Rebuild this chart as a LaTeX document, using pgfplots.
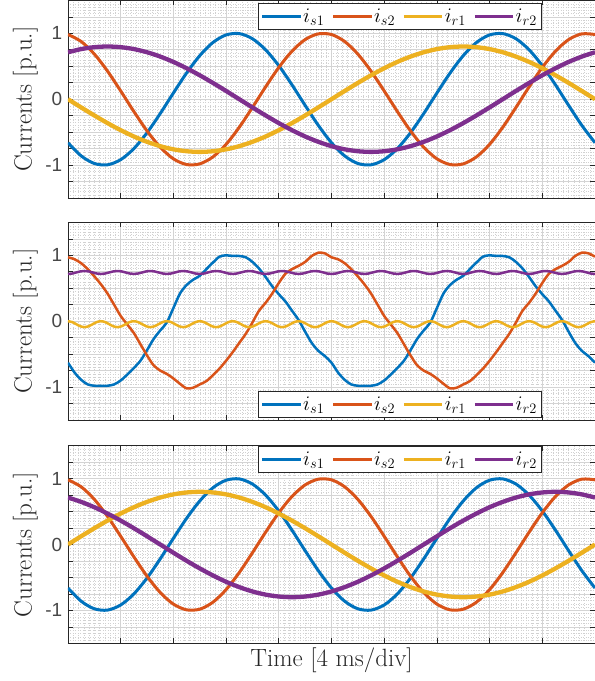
\documentclass[border=0pt]{standalone}
\usepackage{fontspec}
\usepackage{pgfplots}
\usepackage{pgfplotstable}
\pgfplotsset{compat=1.18}
\newfontfamily\tickfont{Liberation Sans}
\definecolor{mblue}{rgb}{0,0.447,0.741}
\definecolor{morange}{rgb}{0.85,0.325,0.098}
\definecolor{myellow}{rgb}{0.929,0.694,0.125}
\definecolor{mpurple}{rgb}{0.494,0.184,0.556}
\definecolor{axgray}{rgb}{0.15,0.15,0.15}

% Panel 1 (t in ms)
\pgfplotstableread{
t is1 is2 ir1 ir2
0 -0.661 0.982 0 0.713
1 -0.861 0.876 -0.125 0.761
2 -0.976 0.685 -0.247 0.790
3 -0.996 0.426 -0.363 0.800
4 -0.918 0.125 -0.470 0.790
5 -0.750 -0.187 -0.566 0.761
6 -0.509 -0.482 -0.647 0.713
7 -0.218 -0.729 -0.713 0.647
8 0.094 -0.905 -0.761 0.566
9 0.397 -0.992 -0.790 0.470
10 0.661 -0.982 -0.800 0.363
11 0.861 -0.876 -0.790 0.247
12 0.976 -0.685 -0.761 0.125
13 0.996 -0.426 -0.713 0
14 0.918 -0.125 -0.647 -0.125
15 0.750 0.187 -0.566 -0.247
16 0.509 0.482 -0.470 -0.363
17 0.218 0.729 -0.363 -0.470
18 -0.094 0.905 -0.247 -0.566
19 -0.397 0.992 -0.125 -0.647
20 -0.661 0.982 0 -0.713
21 -0.861 0.876 0.125 -0.761
22 -0.976 0.685 0.247 -0.790
23 -0.996 0.426 0.363 -0.800
24 -0.918 0.125 0.470 -0.790
25 -0.750 -0.187 0.566 -0.761
26 -0.509 -0.482 0.647 -0.713
27 -0.218 -0.729 0.713 -0.647
28 0.094 -0.905 0.761 -0.566
29 0.397 -0.992 0.790 -0.470
30 0.661 -0.982 0.800 -0.363
31 0.861 -0.876 0.790 -0.247
32 0.976 -0.685 0.761 -0.125
33 0.996 -0.426 0.713 0
34 0.918 -0.125 0.647 0.125
35 0.750 0.187 0.566 0.247
36 0.509 0.482 0.470 0.363
37 0.218 0.729 0.363 0.470
38 -0.094 0.905 0.247 0.566
39 -0.397 0.992 0.125 0.647
40 -0.661 0.982 0 0.713
}\tabA

% Panel 3
\pgfplotstableread{
t is1 is2 ir1 ir2
0 -0.661 0.982 0 0.713
1 -0.861 0.876 0.125 0.647
2 -0.976 0.685 0.247 0.566
3 -0.996 0.426 0.363 0.470
4 -0.918 0.125 0.470 0.363
5 -0.750 -0.187 0.566 0.247
6 -0.509 -0.482 0.647 0.125
7 -0.218 -0.729 0.713 0
8 0.094 -0.905 0.761 -0.125
9 0.397 -0.992 0.790 -0.247
10 0.661 -0.982 0.800 -0.363
11 0.861 -0.876 0.790 -0.470
12 0.976 -0.685 0.761 -0.566
13 0.996 -0.426 0.713 -0.647
14 0.918 -0.125 0.647 -0.713
15 0.750 0.187 0.566 -0.761
16 0.509 0.482 0.470 -0.790
17 0.218 0.729 0.363 -0.800
18 -0.094 0.905 0.247 -0.790
19 -0.397 0.992 0.125 -0.761
20 -0.661 0.982 0 -0.713
21 -0.861 0.876 -0.125 -0.647
22 -0.976 0.685 -0.247 -0.566
23 -0.996 0.426 -0.363 -0.470
24 -0.918 0.125 -0.470 -0.363
25 -0.750 -0.187 -0.566 -0.247
26 -0.509 -0.482 -0.647 -0.125
27 -0.218 -0.729 -0.713 0
28 0.094 -0.905 -0.761 0.125
29 0.397 -0.992 -0.790 0.247
30 0.661 -0.982 -0.800 0.363
31 0.861 -0.876 -0.790 0.470
32 0.976 -0.685 -0.761 0.566
33 0.996 -0.426 -0.713 0.647
34 0.918 -0.125 -0.647 0.713
35 0.750 0.187 -0.566 0.761
36 0.509 0.482 -0.470 0.790
37 0.218 0.729 -0.363 0.800
38 -0.094 0.905 -0.247 0.790
39 -0.397 0.992 -0.125 0.761
40 -0.661 0.982 0 0.713
}\tabC

% Panel 2, stator currents
\pgfplotstableread{
t is1 is2
0 -0.63 0.97
0.5 -0.78 0.94
1 -0.89 0.88
1.5 -0.96 0.79
2 -0.98 0.68
2.5 -0.98 0.56
3 -0.98 0.42
3.5 -0.96 0.25
4 -0.90 0.08
4.5 -0.81 -0.05
5 -0.71 -0.18
5.5 -0.60 -0.35
6 -0.44 -0.52
6.5 -0.27 -0.67
7 -0.14 -0.75
7.5 -0.02 -0.80
8 0.20 -0.87
8.5 0.42 -0.95
9 0.55 -1.02
9.5 0.63 -1.01
10 0.69 -0.96
10.5 0.79 -0.91
11 0.89 -0.82
11.5 0.98 -0.72
12 1.00 -0.60
12.5 0.99 -0.47
13 0.99 -0.33
13.5 0.97 -0.19
14 0.90 -0.02
14.5 0.80 0.16
15 0.67 0.28
15.5 0.53 0.42
16 0.41 0.58
16.5 0.30 0.72
17 0.16 0.79
17.5 0.02 0.84
18 -0.16 0.90
18.5 -0.33 0.99
19 -0.45 1.04
19.5 -0.53 1.03
20 -0.63 0.97
20.5 -0.78 0.94
21 -0.89 0.88
21.5 -0.96 0.79
22 -0.98 0.68
22.5 -0.98 0.56
23 -0.98 0.42
23.5 -0.96 0.25
24 -0.90 0.08
24.5 -0.81 -0.05
25 -0.71 -0.18
25.5 -0.60 -0.35
26 -0.44 -0.52
26.5 -0.27 -0.67
27 -0.14 -0.75
27.5 -0.02 -0.80
28 0.20 -0.87
28.5 0.42 -0.95
29 0.55 -1.02
29.5 0.63 -1.01
30 0.69 -0.96
30.5 0.79 -0.91
31 0.89 -0.82
31.5 0.98 -0.72
32 1.00 -0.60
32.5 0.99 -0.47
33 0.99 -0.33
33.5 0.97 -0.19
34 0.90 -0.02
34.5 0.80 0.16
35 0.67 0.28
35.5 0.53 0.42
36 0.41 0.58
36.5 0.30 0.72
37 0.16 0.79
37.5 0.02 0.84
38 -0.16 0.90
38.5 -0.33 0.99
39 -0.45 1.04
39.5 -0.53 1.03
40 -0.63 0.98
}\tabBs

% Panel 2, rotor currents
\pgfplotstableread[row sep=\\]{
t ir1 ir2\\
0 0 0.718\\ 0.3125 -0.013 0.724\\ 0.625 -0.045 0.740\\ 0.9375 -0.077 0.756\\ 1.25 -0.090 0.762\\ 1.5625 -0.077 0.756\\ 1.875 -0.045 0.740\\ 2.1875 -0.013 0.724\\
2.5 0 0.718\\ 2.8125 -0.013 0.724\\ 3.125 -0.045 0.740\\ 3.4375 -0.077 0.756\\ 3.75 -0.090 0.762\\ 4.0625 -0.077 0.756\\ 4.375 -0.045 0.740\\ 4.6875 -0.013 0.724\\
5 0 0.718\\ 5.3125 -0.013 0.724\\ 5.625 -0.045 0.740\\ 5.9375 -0.077 0.756\\ 6.25 -0.090 0.762\\ 6.5625 -0.077 0.756\\ 6.875 -0.045 0.740\\ 7.1875 -0.013 0.724\\
7.5 0 0.718\\ 7.8125 -0.013 0.724\\ 8.125 -0.045 0.740\\ 8.4375 -0.077 0.756\\ 8.75 -0.090 0.762\\ 9.0625 -0.077 0.756\\ 9.375 -0.045 0.740\\ 9.6875 -0.013 0.724\\
10 0 0.718\\ 10.3125 -0.013 0.724\\ 10.625 -0.045 0.740\\ 10.9375 -0.077 0.756\\ 11.25 -0.090 0.762\\ 11.5625 -0.077 0.756\\ 11.875 -0.045 0.740\\ 12.1875 -0.013 0.724\\
12.5 0 0.718\\ 12.8125 -0.013 0.724\\ 13.125 -0.045 0.740\\ 13.4375 -0.077 0.756\\ 13.75 -0.090 0.762\\ 14.0625 -0.077 0.756\\ 14.375 -0.045 0.740\\ 14.6875 -0.013 0.724\\
15 0 0.718\\ 15.3125 -0.013 0.724\\ 15.625 -0.045 0.740\\ 15.9375 -0.077 0.756\\ 16.25 -0.090 0.762\\ 16.5625 -0.077 0.756\\ 16.875 -0.045 0.740\\ 17.1875 -0.013 0.724\\
17.5 0 0.718\\ 17.8125 -0.013 0.724\\ 18.125 -0.045 0.740\\ 18.4375 -0.077 0.756\\ 18.75 -0.090 0.762\\ 19.0625 -0.077 0.756\\ 19.375 -0.045 0.740\\ 19.6875 -0.013 0.724\\
20 0 0.718\\ 20.3125 -0.013 0.724\\ 20.625 -0.045 0.740\\ 20.9375 -0.077 0.756\\ 21.25 -0.090 0.762\\ 21.5625 -0.077 0.756\\ 21.875 -0.045 0.740\\ 22.1875 -0.013 0.724\\
22.5 0 0.718\\ 22.8125 -0.013 0.724\\ 23.125 -0.045 0.740\\ 23.4375 -0.077 0.756\\ 23.75 -0.090 0.762\\ 24.0625 -0.077 0.756\\ 24.375 -0.045 0.740\\ 24.6875 -0.013 0.724\\
25 0 0.718\\ 25.3125 -0.013 0.724\\ 25.625 -0.045 0.740\\ 25.9375 -0.077 0.756\\ 26.25 -0.090 0.762\\ 26.5625 -0.077 0.756\\ 26.875 -0.045 0.740\\ 27.1875 -0.013 0.724\\
27.5 0 0.718\\ 27.8125 -0.013 0.724\\ 28.125 -0.045 0.740\\ 28.4375 -0.077 0.756\\ 28.75 -0.090 0.762\\ 29.0625 -0.077 0.756\\ 29.375 -0.045 0.740\\ 29.6875 -0.013 0.724\\
30 0 0.718\\ 30.3125 -0.013 0.724\\ 30.625 -0.045 0.740\\ 30.9375 -0.077 0.756\\ 31.25 -0.090 0.762\\ 31.5625 -0.077 0.756\\ 31.875 -0.045 0.740\\ 32.1875 -0.013 0.724\\
32.5 0 0.718\\ 32.8125 -0.013 0.724\\ 33.125 -0.045 0.740\\ 33.4375 -0.077 0.756\\ 33.75 -0.090 0.762\\ 34.0625 -0.077 0.756\\ 34.375 -0.045 0.740\\ 34.6875 -0.013 0.724\\
35 0 0.718\\ 35.3125 -0.013 0.724\\ 35.625 -0.045 0.740\\ 35.9375 -0.077 0.756\\ 36.25 -0.090 0.762\\ 36.5625 -0.077 0.756\\ 36.875 -0.045 0.740\\ 37.1875 -0.013 0.724\\
37.5 0 0.718\\ 37.8125 -0.013 0.724\\ 38.125 -0.045 0.740\\ 38.4375 -0.077 0.756\\ 38.75 -0.090 0.762\\ 39.0625 -0.077 0.756\\ 39.375 -0.045 0.740\\ 39.6875 -0.013 0.724\\
40 0 0.718\\
}\tabBr

\pgfplotsset{
  myax/.style={
    scale only axis, width=527pt, height=197.6pt,
    xmin=0, xmax=40, ymin=-1.5, ymax=1.5,
    xtick={0,4,...,40}, xticklabels={},
    ytick={-1.5,-1.25,...,1.5},
    yticklabels={,,-1,,,,0,,,,1,,},
    minor x tick num=9, minor y tick num=4,
    minor tick length=0pt, major tick length=5pt,
    tick align=inside,
    grid=both,
    major grid style={black!17, line width=0.6pt},
    minor grid style={black!18, line width=0.35pt, dash pattern=on 0.5pt off 2pt},
    axis line style={axgray, line width=0.7pt},
    tick style={axgray, line width=0.6pt},
    yticklabel style={font=\tickfont\fontsize{19}{19}\selectfont, text=axgray!85, inner sep=0pt, xshift=-5.5pt},
    ylabel={Currents [p.u.]},
    every axis y label/.style={at={(axis description cs:-0.0569,0.5)}, rotate=90, anchor=south, inner sep=0pt, font=\fontsize{25}{28}\selectfont, text=axgray},
    every axis x label/.style={at={(axis description cs:0.5,-0.0228)}, anchor=north, inner sep=0pt, font=\fontsize{25}{28}\selectfont, text=axgray},
    legend columns=4,
    legend cell align=left,
    legend image code/.code={\draw[#1,line width=2.7pt] plot coordinates {(0pt,0pt) (19pt,0pt) (38pt,0pt)};},
    legend style={font=\fontsize{20}{24}\selectfont, draw=axgray, line width=0.6pt, fill=white,
      inner xsep=3pt, inner ysep=2.5pt,
      nodes={inner xsep=1.5pt, inner ysep=3pt},
      /tikz/every even column/.append style={column sep=6pt}},
    every axis plot/.append style={smooth, no markers},
  },
}

\begin{document}
\begin{tikzpicture}
\useasboundingbox (-68pt,-37.7pt) rectangle (527pt,643.3pt);

\begin{axis}[myax, at={(0pt,445.3pt)}, anchor=south west,
  legend style={at={(0.899,0.987)}, anchor=north east}]
\addplot[mblue, line width=3pt] table[x=t,y=is1] {\tabA};
\addplot[morange, line width=3pt] table[x=t,y=is2] {\tabA};
\addplot[myellow, line width=4.3pt] table[x=t,y=ir1] {\tabA};
\addplot[mpurple, line width=4.3pt] table[x=t,y=ir2] {\tabA};
\legend{$i_{s1}$,$i_{s2}$,$i_{r1}$,$i_{r2}$}
\end{axis}

\begin{axis}[myax, at={(0pt,223.3pt)}, anchor=south west,
  legend style={at={(0.899,0.01)}, anchor=south east}]
\addplot[mblue, line width=2.5pt] table[x=t,y=is1] {\tabBs};
\addplot[morange, line width=2.5pt] table[x=t,y=is2] {\tabBs};
\addplot[myellow, line width=2.5pt] table[x=t,y=ir1] {\tabBr};
\addplot[mpurple, line width=2.5pt] table[x=t,y=ir2] {\tabBr};
\legend{$i_{s1}$,$i_{s2}$,$i_{r1}$,$i_{r2}$}
\end{axis}

\begin{axis}[myax, at={(0pt,0pt)}, anchor=south west,
  xlabel={Time [4 ms/div]},
  legend style={at={(0.899,0.997)}, anchor=north east}]
\addplot[mblue, line width=3pt] table[x=t,y=is1] {\tabC};
\addplot[morange, line width=3pt] table[x=t,y=is2] {\tabC};
\addplot[myellow, line width=4.3pt] table[x=t,y=ir1] {\tabC};
\addplot[mpurple, line width=4.3pt] table[x=t,y=ir2] {\tabC};
\legend{$i_{s1}$,$i_{s2}$,$i_{r1}$,$i_{r2}$}
\end{axis}
\end{tikzpicture}
\end{document}
